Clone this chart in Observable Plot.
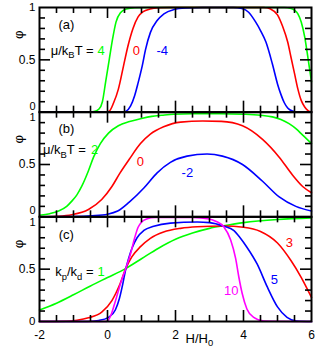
<!DOCTYPE html>
<html><head><meta charset="utf-8">
<script src="https://cdn.jsdelivr.net/npm/d3@7"></script>
<script src="https://cdn.jsdelivr.net/npm/@observablehq/plot@0.6"></script>
<style>body{margin:0;background:#fff}</style>
</head><body><div id="chart"></div>
<script>
const panels = ["a", "b", "c"];

// panel (a): mu/kBT = 4, 0, -4   ([H/H0, phi])
const aMu4 = [[-2,0],[-0.6,0],[-0.4,0.005],[-0.25,0.03],[-0.15,0.1],[-0.05,0.3],[0.05,0.5],[0.15,0.7],[0.25,0.86],[0.38,0.95],[0.55,0.985],[0.8,0.998],[1.2,1],[5.2,1],[5.4,0.99],[5.5,0.975],[5.6,0.94],[5.7,0.86],[5.8,0.72],[5.9,0.51],[6,0.29]];
const aMu0 = [[-2,0],[-0.1,0],[0.05,0.01],[0.18,0.09],[0.32,0.22],[0.47,0.44],[0.6,0.63],[0.75,0.8],[0.9,0.91],[1.05,0.96],[1.25,0.985],[1.5,0.997],[1.8,1],[4.6,1],[4.8,0.985],[5.0,0.93],[5.15,0.82],[5.3,0.67],[5.4,0.52],[5.5,0.37],[5.6,0.22],[5.7,0.11],[5.8,0.05],[5.9,0.015],[6,0.003]];
const aMuM4 = [[-2,0],[0.4,0],[0.55,0.01],[0.68,0.06],[0.8,0.16],[0.9,0.28],[1.02,0.44],[1.12,0.6],[1.26,0.76],[1.46,0.875],[1.66,0.94],[1.95,0.98],[2.3,0.995],[2.8,1],[3.7,1],[3.95,0.99],[4.15,0.955],[4.36,0.86],[4.5,0.78],[4.66,0.67],[4.85,0.46],[5.0,0.27],[5.1,0.17],[5.2,0.09],[5.3,0.04],[5.44,0.01],[5.6,0],[6,0]];

// panel (b): mu/kBT = 2, 0, -2
const bMu2 = [[-2,0.015],[-1.7,0.03],[-1.44,0.055],[-1.2,0.1],[-1.05,0.15],[-0.9,0.21],[-0.76,0.29],[-0.56,0.44],[-0.41,0.57],[-0.21,0.7],[0.03,0.8],[0.32,0.87],[0.65,0.91],[1.0,0.94],[1.3,0.96],[1.6,0.97],[1.95,0.98],[2.5,0.985],[3.3,0.985],[4.0,0.98],[4.5,0.97],[4.85,0.955],[5.1,0.93],[5.34,0.89],[5.55,0.84],[5.74,0.78],[6,0.7]];
const bMu0 = [[-2,0],[-1.5,0.005],[-1.05,0.02],[-0.56,0.07],[-0.17,0.165],[0.13,0.29],[0.37,0.42],[0.64,0.55],[0.97,0.7],[1.26,0.79],[1.65,0.86],[2.15,0.905],[2.8,0.915],[3.35,0.912],[3.97,0.87],[4.56,0.74],[5.05,0.57],[5.44,0.4],[5.74,0.29],[6,0.23]];
const bMuM2 = [[-2,0],[-1,0.003],[-0.46,0.01],[0,0.025],[0.3,0.055],[0.64,0.14],[1.07,0.275],[1.46,0.42],[1.85,0.52],[2.34,0.58],[2.93,0.6],[3.38,0.58],[3.97,0.5],[4.56,0.34],[5.05,0.19],[5.54,0.1],[6,0.055]];

// panel (c): kp/kd = 1, 3, 5, 10
const cK1 = [[-2,0.11],[-1.5,0.175],[-1,0.255],[-0.5,0.34],[0,0.42],[0.53,0.505],[1,0.6],[1.5,0.7],[2,0.785],[2.5,0.845],[3,0.89],[3.42,0.915],[4,0.945],[5,0.975],[6,0.99]];
const cK3 = [[-2,0],[-1.2,0.003],[-0.9,0.012],[-0.56,0.035],[-0.17,0.09],[0.13,0.2],[0.37,0.36],[0.53,0.5],[0.72,0.62],[0.97,0.715],[1.26,0.795],[1.65,0.855],[2.15,0.89],[2.64,0.905],[3.42,0.912],[4,0.9],[4.5,0.86],[5,0.75],[5.4,0.58],[5.7,0.42],[6,0.23]];
const cK5 = [[-2,0],[-0.6,0],[-0.26,0.01],[0.03,0.04],[0.23,0.11],[0.35,0.22],[0.45,0.36],[0.53,0.49],[0.62,0.6],[0.72,0.7],[0.87,0.8],[1.07,0.87],[1.36,0.91],[1.85,0.94],[2.64,0.95],[3.0,0.945],[3.42,0.91],[3.71,0.87],[3.9,0.8],[4.1,0.71],[4.4,0.55],[4.7,0.33],[5,0.14],[5.28,0.04],[5.56,0.005],[6,0]];
const cK10 = [[-2,0],[-0.02,0],[0.1,0.06],[0.2,0.16],[0.3,0.27],[0.4,0.38],[0.53,0.5],[0.68,0.65],[0.8,0.8],[0.9,0.9],[1.0,0.95],[1.15,0.98],[1.4,0.993],[2.5,0.995],[3.0,0.98],[3.2,0.955],[3.42,0.905],[3.62,0.78],[3.77,0.6],[3.86,0.43],[3.96,0.27],[4.1,0.12],[4.3,0.04],[4.6,0.005],[6,0]];

// ticks
const xTickLabels = [-2, 0, 2, 4, 6];
const xMajor = [0, 2, 4];
const xMinor = [-1.5, -1, -0.5, 0.5, 1, 1.5, 2.5, 3, 3.5, 4.5, 5, 5.5];
const yMajor = [0.5];
const yMinor = [0.1, 0.2, 0.3, 0.4, 0.6, 0.7, 0.8, 0.9];

const GREEN = "#00ff00", RED = "#ff0000", BLUE = "#0000ff", MAGENTA = "#ff00ff";
const series = [
  {panel: "a", color: GREEN, data: aMu4},
  {panel: "a", color: RED, data: aMu0},
  {panel: "a", color: BLUE, data: aMuM4},
  {panel: "b", color: GREEN, data: bMu2},
  {panel: "b", color: RED, data: bMu0},
  {panel: "b", color: BLUE, data: bMuM2},
  {panel: "c", color: GREEN, data: cK1},
  {panel: "c", color: RED, data: cK3},
  {panel: "c", color: BLUE, data: cK5},
  {panel: "c", color: MAGENTA, data: cK10}
];

// annotations in data coordinates
const labelsMid = [
  {panel: "a", x: -1.21, y: 0.83, text: "(a)", color: "black"},
  {panel: "a", x: -0.19, y: 0.59, text: "4", color: GREEN},
  {panel: "a", x: 0.85, y: 0.59, text: "0", color: RED},
  {panel: "a", x: 1.61, y: 0.59, text: "-4", color: BLUE},
  {panel: "b", x: -1.21, y: 0.84, text: "(b)", color: "black"},
  {panel: "b", x: -0.38, y: 0.64, text: "2", color: GREEN},
  {panel: "b", x: 0.97, y: 0.53, text: "0", color: RED},
  {panel: "b", x: 2.35, y: 0.42, text: "-2", color: BLUE},
  {panel: "c", x: -1.21, y: 0.83, text: "(c)", color: "black"},
  {panel: "c", x: -0.19, y: 0.475, text: "1", color: GREEN},
  {panel: "c", x: 5.35, y: 0.75, text: "3", color: RED},
  {panel: "c", x: 4.91, y: 0.40, text: "5", color: BLUE},
  {panel: "c", x: 3.64, y: 0.293, text: "10", color: MAGENTA}
];
const labelsEnd = [
  {panel: "a", x: -0.41, y: 0.59, text: "μ/k_BT ="},
  {panel: "b", x: -0.64, y: 0.64, text: "μ/k_BT ="},
  {panel: "c", x: -0.41, y: 0.475, text: "k_p/k_d ="}
];

const W = 325, H = 350, mt = 7, mb = 29, ml = 39, mr = 14;
const fh = (H - mt - mb) / 3, fw = W - ml - mr;
const MAJ = 11, MIN = 6, TW = 1.6;

function ticksX(vals, len) {
  return [
    Plot.tickX(vals, {x: d => d, insetTop: fh - len, stroke: "black", strokeWidth: TW}),
    Plot.tickX(vals, {x: d => d, insetBottom: fh - len, stroke: "black", strokeWidth: TW})
  ];
}
function ticksY(vals, len) {
  return [
    Plot.tickY(vals, {y: d => d, insetRight: fw - len, stroke: "black", strokeWidth: TW}),
    Plot.tickY(vals, {y: d => d, insetLeft: fw - len, stroke: "black", strokeWidth: TW})
  ];
}

const chart = Plot.plot({
  width: W, height: H,
  marginTop: mt, marginBottom: mb, marginLeft: ml, marginRight: mr,
  x: {domain: [-2, 6]},
  y: {domain: [0, 1]},
  fy: {domain: panels, padding: 0, axis: null, round: false},
  style: {fontFamily: "'Liberation Sans', Arial, sans-serif", fontSize: "12px", color: "black", background: "white"},
  marks: [
    ...series.map(s => Plot.line(s.data, {
      x: d => d[0], y: d => d[1], fy: () => s.panel,
      stroke: s.color, strokeWidth: 1.6, curve: "monotone-x"
    })),
    ...ticksX(xMajor, MAJ), ...ticksX(xMinor, MIN),
    ...ticksY(yMajor, MAJ), ...ticksY(yMinor, MIN),
    Plot.frame({stroke: "black", strokeWidth: 2}),
    Plot.axisX({ticks: xTickLabels, tickSize: 0, tickPadding: 9, label: null, tickFormat: d => String(d), anchor: "bottom"}),
    Plot.axisY({ticks: [0.5], tickSize: 0, tickPadding: 4, label: null, tickFormat: d => String(d), anchor: "left"}),
    Plot.text(["a", "b"], {fy: d => d, y: () => 0, frameAnchor: "left", text: () => "0", textAnchor: "end", dx: -4, dy: -6, fontSize: 11}),
    Plot.text(["c"], {fy: d => d, y: () => 0, frameAnchor: "left", text: () => "0", textAnchor: "end", dx: -4, dy: 0, fontSize: 11.5}),
    Plot.text(["a"], {fy: d => d, y: () => 1, frameAnchor: "left", text: () => "1", textAnchor: "end", dx: -4, dy: 0, fontSize: 11.5}),
    Plot.text(["b", "c"], {fy: d => d, y: () => 1, frameAnchor: "left", text: () => "1", textAnchor: "end", dx: -4, dy: 5.5, fontSize: 11}),
    Plot.text(panels, {fy: d => d, y: () => 0.7, frameAnchor: "left", text: () => "φ", rotate: -90, dx: -21, fontSize: 13}),
    Plot.text(labelsMid, {fy: "panel", x: "x", y: "y", text: "text", fill: "color", fontSize: 13}),
    Plot.text(labelsEnd, {fy: "panel", x: "x", y: "y", text: "text", fill: "black", textAnchor: "end", fontSize: 13}),
    Plot.text(["c"], {fy: d => d, x: () => 2, frameAnchor: "bottom", text: () => "H/H_0", textAnchor: "start", lineAnchor: "bottom", dx: 10, dy: 21, fontSize: 13})
  ]
});
document.getElementById("chart").appendChild(chart);

// subscripts: "_X" -> subscript X
d3.select(chart).selectAll("text").each(function() {
  const t = this.textContent;
  if (!t.includes("_")) return;
  const fs = parseFloat(getComputedStyle(this).fontSize) || 13;
  const parts = t.split(/_(.)/);
  const el = d3.select(this);
  el.text(null);
  let shifted = false;
  parts.forEach((p, i) => {
    if (p === "") return;
    const ts = el.append("tspan").text(p);
    if (i % 2 === 1) {
      ts.attr("dy", (fs * 0.28).toFixed(1)).attr("font-size", (fs * 0.72).toFixed(1));
      shifted = true;
    } else if (shifted) {
      ts.attr("dy", (-fs * 0.28).toFixed(1));
      shifted = false;
    }
  });
});
</script>
</body></html>
